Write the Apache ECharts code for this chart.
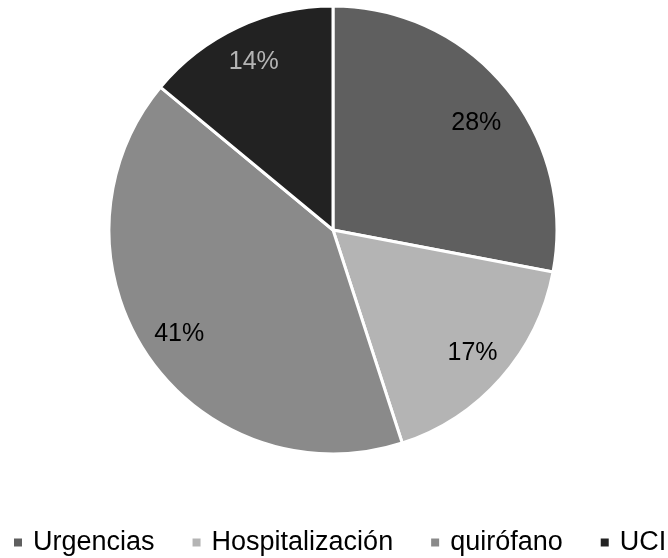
<!DOCTYPE html>
<html>
<head>
<meta charset="utf-8">
<script src="https://cdn.jsdelivr.net/npm/echarts@6/dist/echarts.min.js"></script>
<style>
  html, body { margin: 0; padding: 0; background: #fff; }
  #chart { width: 668px; height: 558px; }
</style>
</head>
<body>
<div id="chart"></div>
<script>
// Distribution by service (percent)
const categories = ['Urgencias', 'Hospitalización', 'quirófano', 'UCI'];
const values = [28, 17, 41, 14];
const sliceColors = ['#5f5f5f', '#b4b4b4', '#8a8a8a', '#222222'];
const labelColors = ['#000000', '#000000', '#000000', '#b4b4b4'];
// Small nudges of the percent labels along the slice
const labelOffsets = [[0, 12], [0, 0], [0, 0], [0, 0]];

const FONT = '"Liberation Sans", Arial, sans-serif';

const pieData = categories.map((name, i) => ({
  name,
  value: values[i],
  itemStyle: { color: sliceColors[i] }
}));

// Same slices again, transparent ring, used only to place the percent labels
const labelData = categories.map((name, i) => ({
  name,
  value: values[i],
  itemStyle: { color: 'rgba(0,0,0,0)', borderWidth: 0 },
  label: { color: labelColors[i], offset: labelOffsets[i] }
}));

const chart = echarts.init(document.getElementById('chart'), null, { renderer: 'canvas' });
chart.setOption({
  animation: false,
  backgroundColor: '#ffffff',
  legend: {
    left: 12,
    top: 529,
    width: 720,
    padding: 0,
    itemWidth: 10,
    itemHeight: 10,
    itemGap: 36,
    icon: 'rect',
    textStyle: {
      fontFamily: FONT,
      fontSize: 27,
      color: '#000',
      padding: [0, 0, 0, 5]
    },
    data: categories
  },
  series: [
    {
      type: 'pie',
      center: [333, 230],
      radius: [0, 224],
      startAngle: 90,
      clockwise: true,
      silent: true,
      label: { show: false },
      labelLine: { show: false },
      itemStyle: { borderColor: '#ffffff', borderWidth: 3 },
      data: pieData
    },
    {
      type: 'pie',
      center: [333, 230],
      radius: [142, 224],
      startAngle: 90,
      clockwise: true,
      silent: true,
      legendHoverLink: false,
      label: {
        show: true,
        position: 'inside',
        formatter: '{c}%',
        fontFamily: FONT,
        fontSize: 25
      },
      labelLine: { show: false },
      data: labelData
    }
  ]
});
</script>
</body>
</html>
